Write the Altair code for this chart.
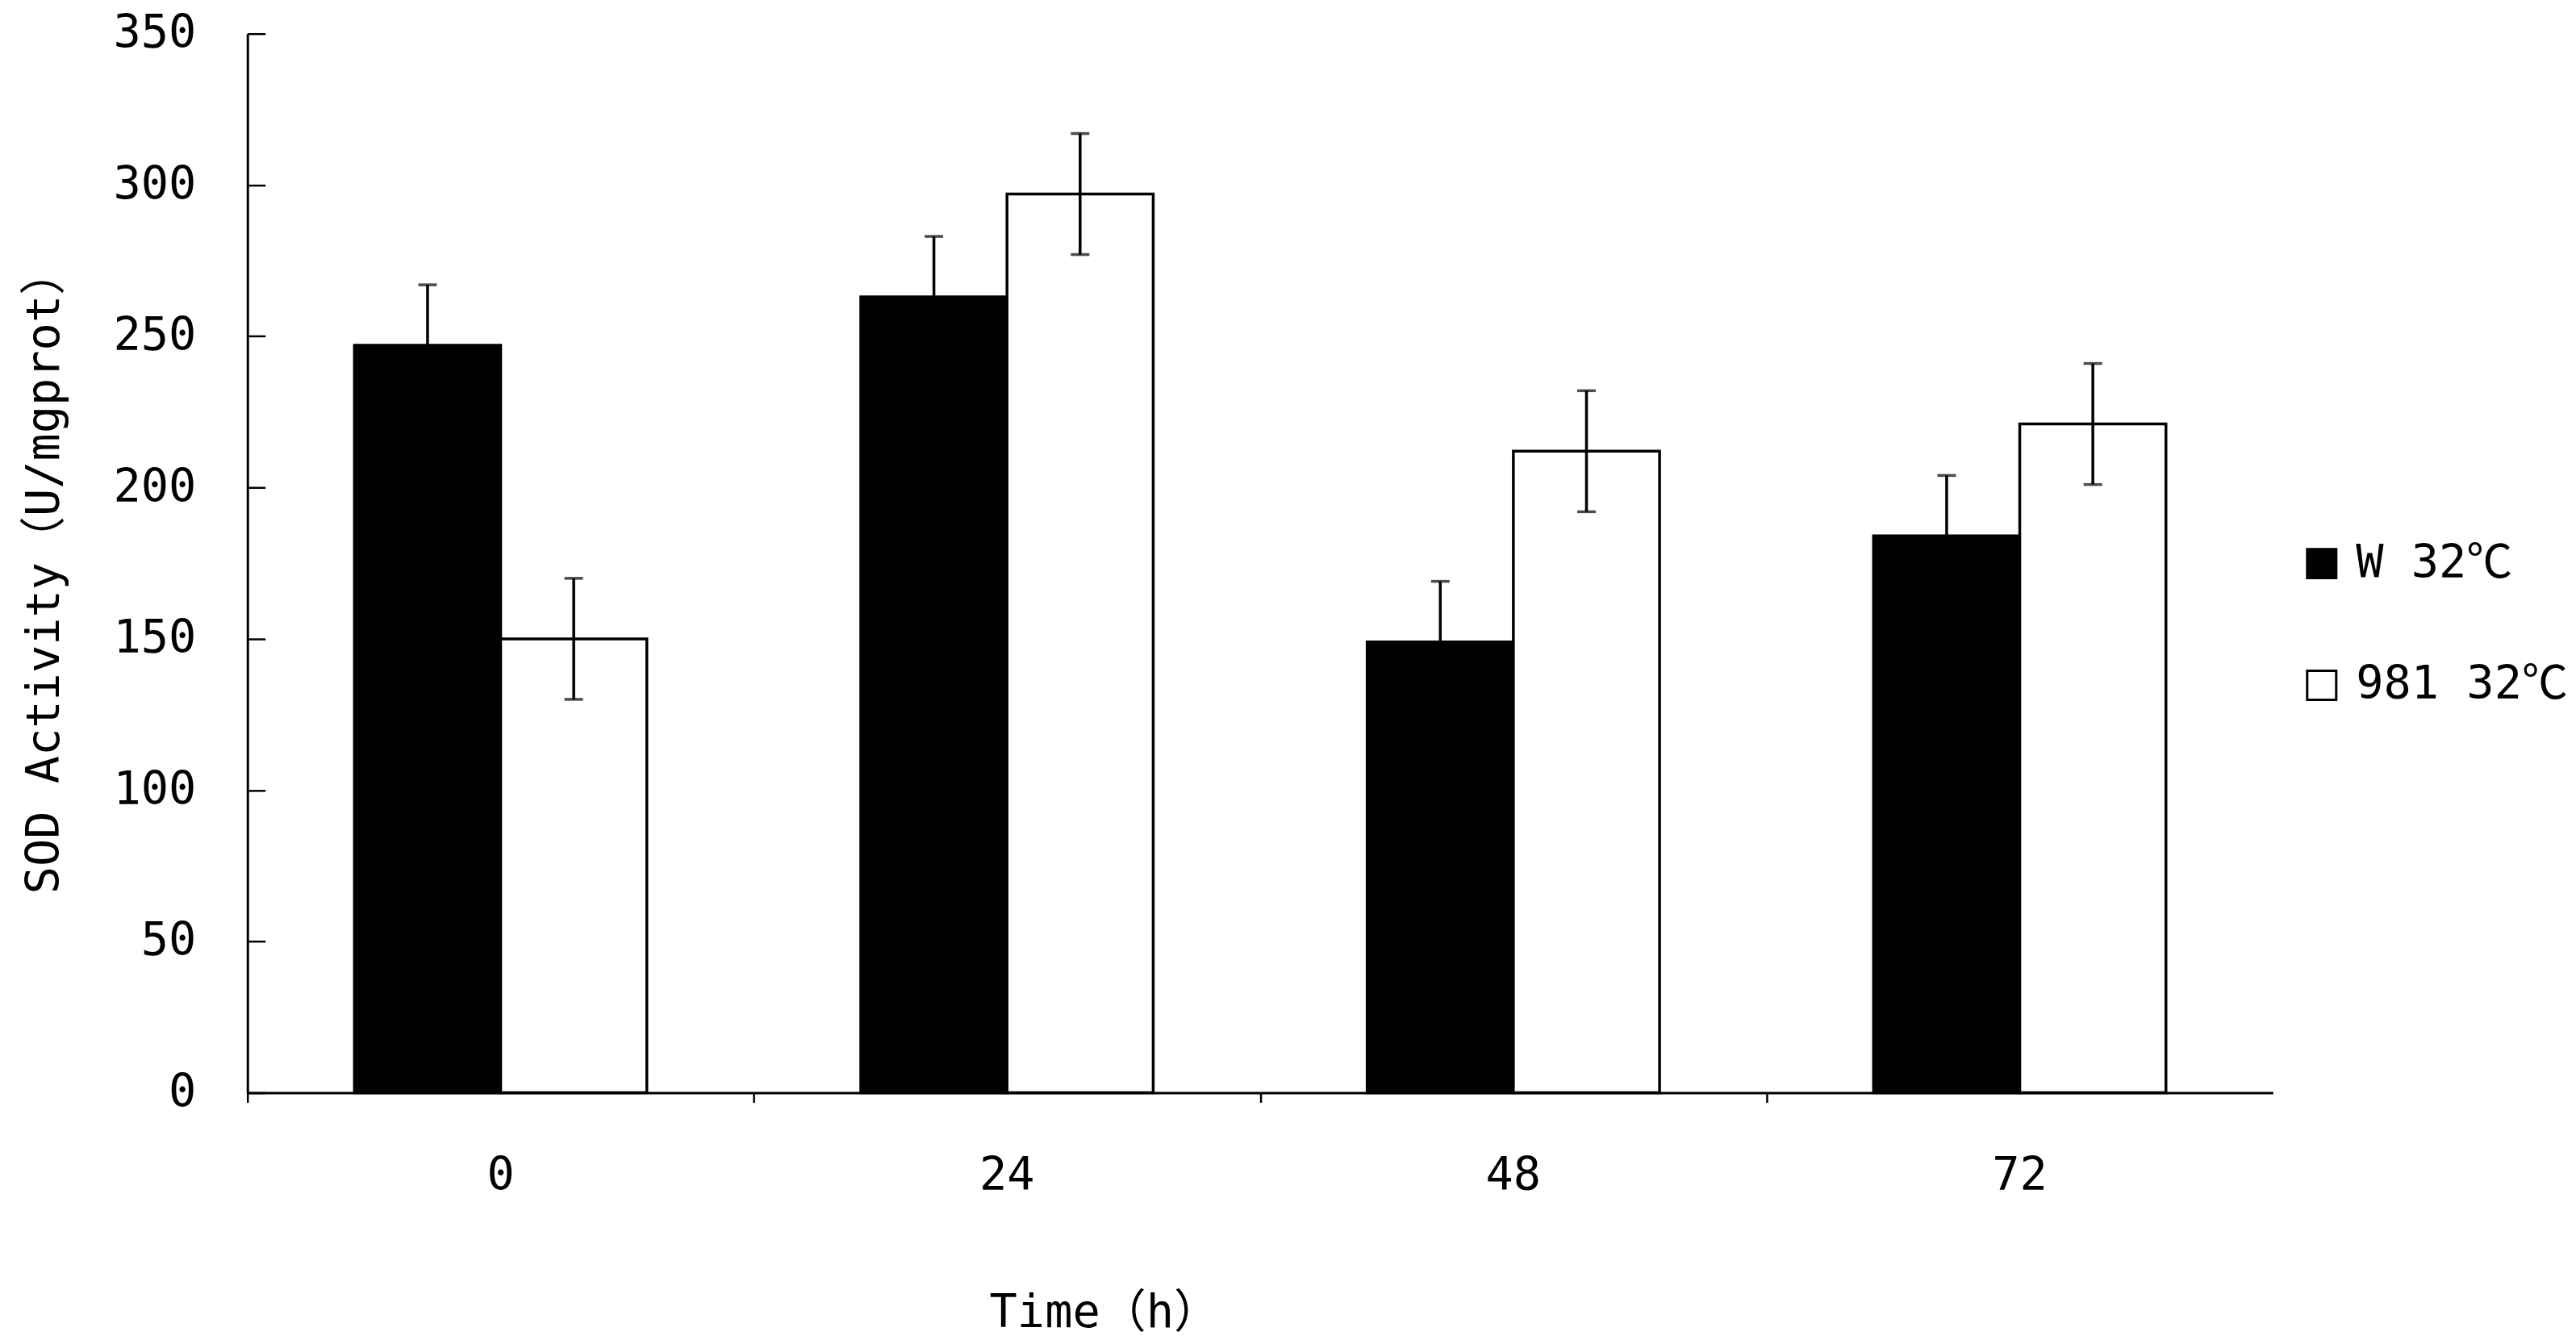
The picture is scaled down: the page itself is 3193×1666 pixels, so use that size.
import altair as alt
import pandas as pd

times = ["0", "24", "48", "72"]
series = ["W 32℃", "981 32℃"]
w_values = [247, 263, 149, 184]
m_values = [150, 297, 212, 221]
w_err = [20, 20, 20, 20]
m_err = [20, 20, 20, 20]
y_ticks = [0, 50, 100, 150, 200, 250, 300, 350]

rows = []
for t, v, e in zip(times, w_values, w_err):
    rows.append({"time": t, "series": series[0], "value": v, "lo": v - e, "hi": v + e})
for t, v, e in zip(times, m_values, m_err):
    rows.append({"time": t, "series": series[1], "value": v, "lo": v - e, "hi": v + e})
df = pd.DataFrame(rows)

FONT = "DejaVu Sans Mono, Noto Sans CJK SC"
FS = 57
W, H = 2513, 1314
PI = 0.4226
STEP = W / (4 - PI + PI)
LW = 3.5

xscale = alt.Scale(domain=times, paddingInner=PI, paddingOuter=PI / 2)
xoff_scale = alt.Scale(domain=series, paddingInner=0, paddingOuter=0)
yscale = alt.Scale(domain=[0, 350], nice=False, zero=True)

base = alt.Chart(df)

bars = base.mark_bar(stroke="black", strokeWidth=LW).encode(
    x=alt.X("time:N", sort=times, scale=xscale,
            axis=alt.Axis(title="Time（h）", labelAngle=0, domainColor="black", domainWidth=3,
                          ticks=False, tickSize=0, labelPadding=75, labelBaseline="top",
                          labelFont=FONT, labelFontSize=FS, labelColor="black",
                          titleFont=FONT, titleFontSize=FS, titleFontWeight="normal",
                          titleColor="black", titleX=1063, titleY=290,
                          titleAlign="center", titleBaseline="alphabetic", grid=False)),
    xOffset=alt.XOffset("series:N", sort=series, scale=xoff_scale),
    y=alt.Y("value:Q", scale=yscale,
            axis=alt.Axis(values=y_ticks, title="SOD Activity（U/mgprot）",
                          domainColor="black", domainWidth=3, ticks=False, tickSize=0,
                          labelPadding=64, labelFont=FONT, labelFontSize=FS, labelColor="black",
                          titleFont=FONT, titleFontSize=FS, titleFontWeight="normal",
                          titleColor="black", titleAngle=270, titleX=-234, titleY=667,
                          titleAlign="center", titleBaseline="alphabetic", grid=False)),
    fill=alt.Fill("series:N", sort=series,
                  scale=alt.Scale(domain=series, range=["black", "white"]),
                  legend=alt.Legend(title=None, orient="none", legendX=2545, legendY=629,
                                    symbolType="square", symbolSize=1296,
                                    symbolStrokeColor="black", symbolStrokeWidth=3,
                                    labelFont=FONT, labelFontSize=FS, labelColor="black",
                                    labelOffset=14, rowPadding=93, labelLimit=600,
                                    labelBaseline="middle")),
)

rules = base.mark_rule(color="black", strokeWidth=LW).encode(
    x=alt.X("time:N", sort=times, scale=xscale,
            axis=alt.Axis(orient="bottom", labels=False, domain=False, ticks=True,
                          tickSize=12, tickWidth=2.5, tickColor="black",
                          tickOffset=-STEP / 2, title=None, grid=False)),
    xOffset=alt.XOffset("series:N", sort=series, scale=xoff_scale),
    y=alt.Y("lo:Q", scale=yscale,
            axis=alt.Axis(orient="right", offset=-W, values=y_ticks, labels=False,
                          domain=False, ticks=True, tickSize=22, tickWidth=2.5,
                          tickColor="black", title=None, grid=False)),
    y2="hi:Q",
)

caps_hi = base.mark_tick(color="black", thickness=LW, size=23, orient="horizontal").encode(
    x=alt.X("time:N", sort=times, scale=xscale, axis=None),
    xOffset=alt.XOffset("series:N", sort=series, scale=xoff_scale),
    y=alt.Y("hi:Q", scale=yscale, axis=None),
)
caps_lo = base.mark_tick(color="black", thickness=LW, size=23, orient="horizontal").encode(
    x=alt.X("time:N", sort=times, scale=xscale, axis=None),
    xOffset=alt.XOffset("series:N", sort=series, scale=xoff_scale),
    y=alt.Y("lo:Q", scale=yscale, axis=None),
)

chart = alt.layer(bars, rules, caps_hi, caps_lo).resolve_axis(
    x="independent", y="independent"
).properties(
    width=W, height=H,
    autosize=alt.AutoSizeParams(type="none"),
    padding={"left": 299, "top": 33, "right": 368, "bottom": 302},
    background="white",
).configure_view(stroke=None)

chart.save("out.html", embed_options={"renderer": "svg", "actions": False})
